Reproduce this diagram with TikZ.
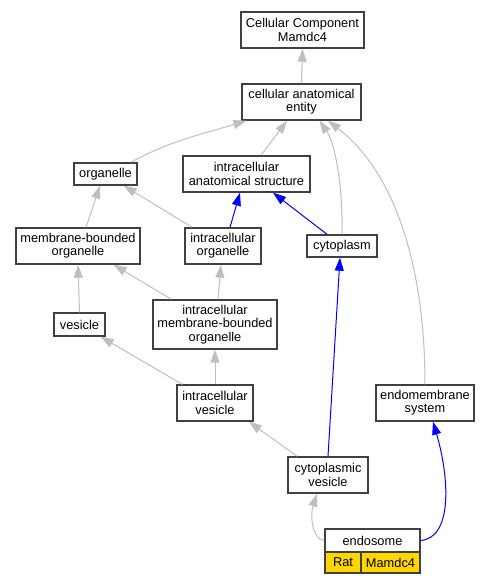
\documentclass[tikz,border=0pt]{standalone}
\usepackage{fontspec}
\setmainfont{Liberation Sans}
\usepackage{tikz}
\usetikzlibrary{arrows.meta}
\definecolor{gold}{RGB}{255,215,0}

\begin{document}
\begin{tikzpicture}[
  x=1pt,y=-1pt,
  font=\fontsize{12.8}{13.3}\selectfont,
  term/.style={draw=black!75,line width=1.4pt,fill=white,align=center,inner sep=0pt},
  cellbox/.style={term,fill=gold,minimum height=21pt},
  isa/.style={draw=black!25,line width=1pt,-{Triangle[length=13pt,width=9pt]}},
  pof/.style={draw=blue,line width=1pt,-{Triangle[length=13pt,width=9pt]}}
]
\useasboundingbox (0,0) rectangle (491,584);
% terms
\node[term,minimum width=123pt,minimum height=36pt] (cc)   at (302.5,30)  {Cellular Component\\Mamdc4};
\node[term,minimum width=119pt,minimum height=36pt] (cae)  at (301.5,102) {cellular anatomical\\entity};
\node[term,minimum width=63pt,minimum height=22pt]  (org)  at (105.5,174) {organelle};
\node[term,minimum width=127pt,minimum height=36pt] (ias)  at (246.5,174) {intracellular\\anatomical structure};
\node[term,minimum width=124pt,minimum height=36pt] (mbo)  at (78,246)    {membrane-bounded\\organelle};
\node[term,minimum width=76pt,minimum height=36pt]  (io)   at (223,246)   {intracellular\\organelle};
\node[term,minimum width=70pt,minimum height=22pt]  (cyto) at (342,246)   {cytoplasm};
\node[term,minimum width=51pt,minimum height=23pt]  (ves)  at (79.5,324.5) {vesicle};
\node[term,minimum width=124pt,minimum height=49pt] (imbo) at (215,324.5) {intracellular\\membrane-bounded\\organelle};
\node[term,minimum width=76pt,minimum height=36pt]  (iv)   at (215,403)   {intracellular\\vesicle};
\node[term,minimum width=98pt,minimum height=36pt]  (ems)  at (425,403)   {endomembrane\\system};
\node[term,minimum width=80pt,minimum height=36pt]  (cv)   at (328,475)   {cytoplasmic\\vesicle};
% annotated term
\node[term,minimum width=95pt,minimum height=23pt]  (endo) at (372.5,540.5) {endosome};
\node[cellbox,minimum width=36pt] (rat)  at (343,562.5)   {Rat};
\node[cellbox,minimum width=59pt] (gene) at (390.5,562.5) {Mamdc4};
% is_a
\draw[isa] (cae.north) -- (cc.south);
\draw[isa] ([xshift=-7pt]org.north east) to[out=28,in=-163] ([xshift=5pt]cae.south west);
\draw[isa] ([xshift=14.5pt]ias.north) -- ([xshift=-14.5pt]cae.south);
\draw[isa] (cyto.north) .. controls (343,190) and (336,145) .. ([xshift=18pt]cae.south);
\draw[isa] (ems.north) .. controls (425,260) and (392,170) .. ([xshift=26.5pt]cae.south);
\draw[isa] ([xshift=8pt]mbo.north) -- ([xshift=-5.5pt]org.south);
\draw[isa] ([xshift=8pt]io.north west) -- ([xshift=-14pt]org.south east);
\draw[isa] (ves.north) -- (mbo.south);
\draw[isa] ([xshift=19pt]imbo.north west) -- ([xshift=-27pt]mbo.south east);
\draw[isa] ([xshift=3pt]imbo.north) -- ([xshift=-2pt]io.south);
\draw[isa] ([xshift=6pt]iv.north west) -- ([xshift=-5pt]ves.south east);
\draw[isa] (iv.north) -- (imbo.south);
\draw[isa] ([xshift=10pt]cv.north west) -- ([xshift=-5pt]iv.south east);
\draw[isa] (endo.west) .. controls (312,540) and (310,515) .. ([xshift=-11pt]cv.south);
% part_of
\draw[pof] ([xshift=7pt]io.north) -- ([xshift=-6.5pt]ias.south);
\draw[pof] ([xshift=-15pt]cyto.north) -- ([xshift=26.5pt]ias.south);
\draw[pof] (cv.north) -- ([xshift=-2pt]cyto.south);
\draw[pof] (endo.east) .. controls (452,538) and (450,480) .. ([xshift=8pt]ems.south);
\end{tikzpicture}
\end{document}
